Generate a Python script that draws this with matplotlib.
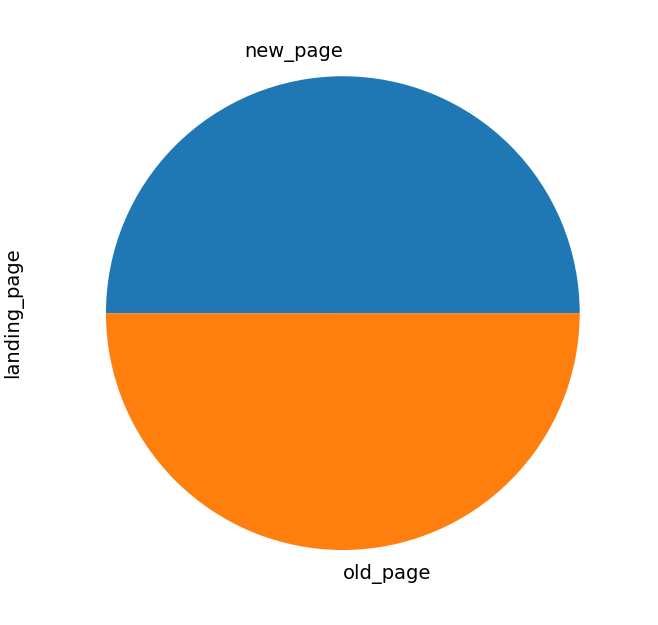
import matplotlib
matplotlib.use("Agg")
import matplotlib.pyplot as plt

labels = ["new_page", "old_page"]
counts = [145311, 145274]

fig = plt.figure(figsize=(6.58, 6.25), dpi=100)
ax = fig.add_axes([0.161, 0.12, 0.720, 0.758])
ax.pie(counts, labels=labels, colors=["#1f77b4", "#ff7f0e"],
       textprops={"fontsize": 14})
ax.set_xlim(-1, 1)
ax.set_ylim(-1, 1)
ax.set_aspect("equal")
for t in ax.texts:
    t.set_clip_on(False)
ax.set_ylabel("landing_page", fontsize=14)
ax.yaxis.set_label_coords(-0.175, 0.5)
fig.savefig("out.png", dpi=100)
